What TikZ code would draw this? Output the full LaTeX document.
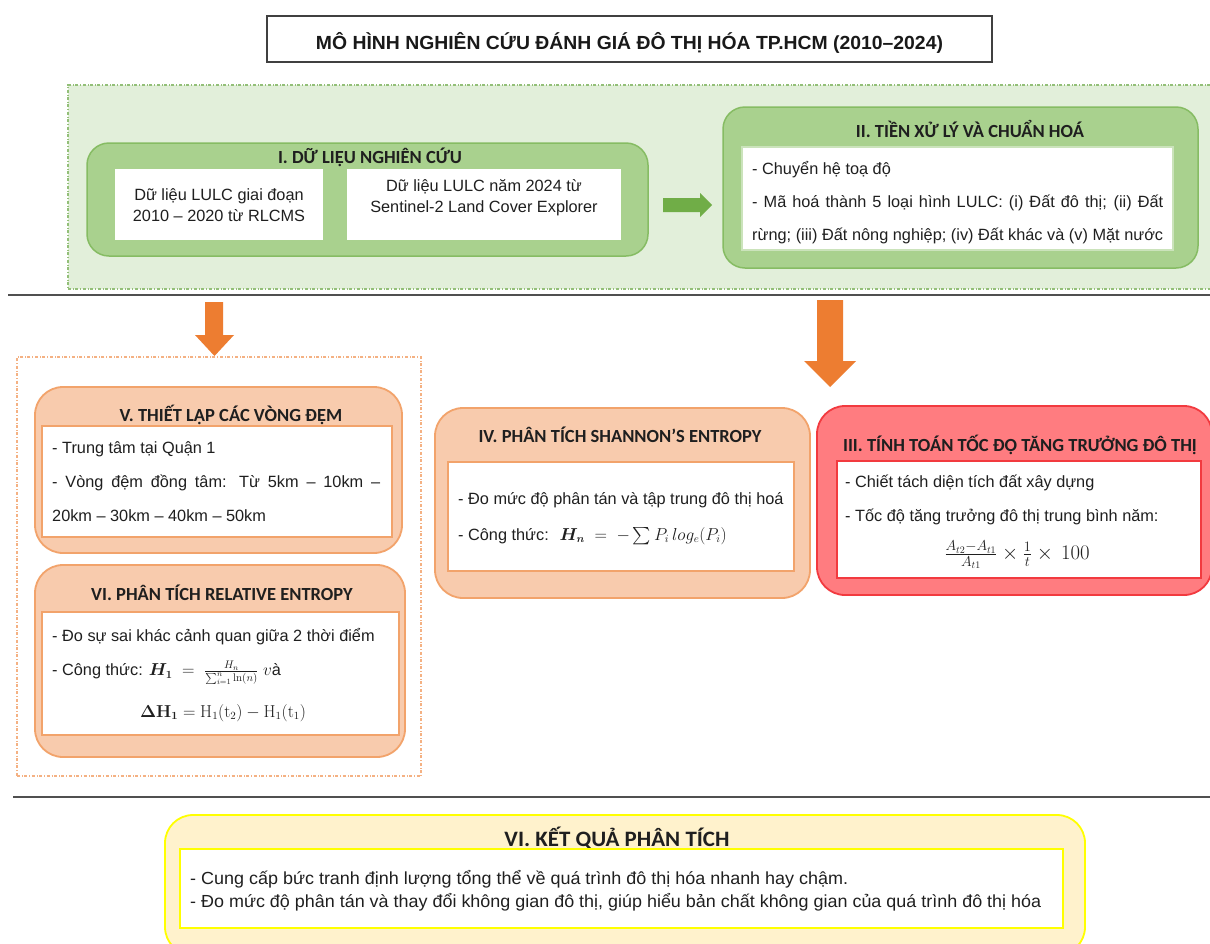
\documentclass[tikz,border=0pt]{standalone}
\usepackage{amsmath,bm,graphicx}
\usepackage[no-math]{fontspec}
\setmainfont{Liberation Sans}
\newfontfamily\calfont{Carlito}
\usetikzlibrary{positioning}
\definecolor{lgreen}{HTML}{E2EFDA}
\definecolor{panelb}{HTML}{93BF78}
\definecolor{mgreen}{HTML}{A9D18E}
\definecolor{mgreenb}{HTML}{86BC63}
\definecolor{agreen}{HTML}{70AD47}
\definecolor{lorange}{HTML}{F8CBAD}
\definecolor{orangeb}{HTML}{F2A36B}
\definecolor{aorange}{HTML}{ED7D31}
\definecolor{opanel}{HTML}{F4B183}
\definecolor{lred}{HTML}{FF7C80}
\definecolor{redb}{HTML}{F23A3F}
\definecolor{lyellow}{HTML}{FFF2CC}
\definecolor{yellowb}{HTML}{FFFF00}
\definecolor{sepgray}{HTML}{505050}
\tikzset{
  boxbase/.style={anchor=north west, inner sep=0pt, outer sep=0pt},
  panelgreen/.style={boxbase, fill=lgreen, draw=panelb, dash dot, line width=1.2pt},
  panelorange/.style={boxbase, draw=opanel, dash dot, line width=1.2pt},
  greenbox/.style={boxbase, fill=mgreen, draw=mgreenb, line width=1.5pt, rounded corners=22pt},
  orangebox/.style={boxbase, fill=lorange, draw=orangeb, line width=1.8pt, rounded corners=28pt},
  redbox/.style={boxbase, fill=lred, draw=redb, line width=1.8pt, rounded corners=28pt},
  yellowbox/.style={boxbase, fill=lyellow, draw=yellowb, line width=1.8pt, rounded corners=28pt},
  whitebox/.style={boxbase, fill=white, draw=#1, line width=1.2pt},
  whitebox/.default=white,
  ttl/.style={font=\calfont\bfseries\fontsize{18.5}{22}\selectfont, inner sep=0pt, text=black!88},
  txt/.style={font=\fontsize{16.3}{20}\selectfont, inner sep=0pt, anchor=west, text=black!88},
  ctxt/.style={font=\fontsize{16.3}{20}\selectfont, inner sep=0pt, text=black!88},
  sepline/.style={draw=sepgray, line width=1.6pt},
  blockgreen/.style={fill=agreen},
  blockorange/.style={fill=aorange},
}
\begin{document}
\begin{tikzpicture}[x=1pt,y=-1pt]
\useasboundingbox (0,0) rectangle (1210,943);
\clip (0,0) rectangle (1210,943);
\fill[white] (0,0) rectangle (1210,943);

% title
\node[boxbase, draw=black!75, line width=1.5pt, minimum width=725pt, minimum height=46pt] (titlebox) at (267,16) {};
\node[inner sep=0pt, font=\bfseries\fontsize{19}{22}\selectfont, text=black!90] (titletext) at (629.5,43) {\resizebox{627pt}{\height}{MÔ HÌNH NGHIÊN CỨU ĐÁNH GIÁ ĐÔ THỊ HÓA TP.HCM (2010–2024)}};

% green panel
\node[panelgreen, minimum width=1150pt, minimum height=204pt] (panelA) at (68,85) {};

% Section I
\node[greenbox, minimum width=561pt, minimum height=113pt] (secI) at (87,143) {};
\node[ttl] (secIt) at (370,157) {I. DỮ LIỆU NGHIÊN CỨU};
\node[whitebox, minimum width=206pt, minimum height=69pt] (dataA) at (116,170) {};
\node[whitebox, minimum width=272pt, minimum height=69pt] (dataB) at (348,170) {};
\node[ctxt, align=center] (dataAt) at (219,205) {Dữ liệu LULC giai đoạn\\[1pt]2010 – 2020 từ RLCMS};
\node[ctxt, align=center] (dataBt) at (484,198) {Dữ liệu LULC năm 2024 từ\\[1pt]Sentinel-2 Land Cover Explorer};

% green arrow
\fill[blockgreen] (663,198) -- (700,198) -- (700,193) -- (712,205) -- (700,217) -- (700,212) -- (663,212) -- cycle;

% Section II
\node[greenbox, minimum width=475pt, minimum height=161pt] (secII) at (723,107) {};
\node[ttl] (secIIt) at (970,129) {II. TIỀN XỬ LÝ VÀ CHUẨN HOÁ};
\node[whitebox=mgreen!60, minimum width=431pt, minimum height=103pt] (secIIin) at (742,147) {};
\node[txt] (l21) at (752,170) {- Chuyển hệ toạ độ};
\node[txt] (l22) at (752,203) {\makebox[411pt][s]{- Mã hoá thành 5 loại hình LULC: (i) Đất đô thị; (ii) Đất}};
\node[txt] (l23) at (752,236) {\makebox[411pt][s]{rừng; (iii) Đất nông nghiệp; (iv) Đất khác và (v) Mặt nước}};

% separator 1
\draw[sepline] (8,295) -- (1210,295);

% orange arrows
\fill[blockorange] (205,302) -- (223,302) -- (223,335) -- (234,335) -- (214.5,356) -- (195,335) -- (205,335) -- cycle;
\fill[blockorange] (817,300) -- (843,300) -- (843,361) -- (856,361) -- (830,387) -- (804,361) -- (817,361) -- cycle;

% orange panel
\node[panelorange, minimum width=404pt, minimum height=419pt] (panelB) at (17,357) {};

% Section V
\node[orangebox, minimum width=367pt, minimum height=166pt] (secV) at (35,387) {};
\node[ttl] (secVt) at (231,415) {V. THIẾT LẬP CÁC VÒNG ĐỆM};
\node[whitebox=orangeb, minimum width=350pt, minimum height=111pt] (secVin) at (42,426) {};
\node[txt] (l51) at (52,449) {- Trung tâm tại Quận 1};
\node[txt] (l52) at (52,483) {\makebox[328pt][s]{- Vòng đệm đồng tâm: Từ 5km – 10km –}};
\node[txt] (l53) at (52,516) {20km – 30km – 40km – 50km};

% Section VI (relative entropy)
\node[orangebox, minimum width=370pt, minimum height=192pt] (secVI) at (35,565) {};
\node[ttl] (secVIt) at (222,593) {VI. PHÂN TÍCH RELATIVE ENTROPY};
\node[whitebox=orangeb, minimum width=357pt, minimum height=123pt] (secVIin) at (42,612) {};
\node[txt] (l61) at (52,637) {- Đo sự sai khác cảnh quan giữa 2 thời điểm};
\node[txt] (l62) at (52,673) {- Công thức: \(\bm{H_1}\;=\;\frac{H_n}{\sum_{i=1}^{n}\ln(n)}\) \(v\)à};
\node[ctxt] (l63) at (223,713) {\(\bm{\Delta}\mathbf{H_1}=\mathrm{H_1(t_2)}-\mathrm{H_1(t_1)}\)};

% Section IV
\node[orangebox, minimum width=375pt, minimum height=190pt] (secIV) at (435,408) {};
\node[ttl] (secIVt) at (620,435) {IV. PHÂN TÍCH SHANNON’S ENTROPY};
\node[whitebox=orangeb, minimum width=346pt, minimum height=109pt] (secIVin) at (448,462) {};
\node[txt] (l41) at (458,500) {- Đo mức độ phân tán và tập trung đô thị hoá};
\node[txt] (l42) at (458,536) {- Công thức: \(\;\bm{H_n}\;=\;-\sum P_i\, log_e(P_i)\)};

% Section III
\node[redbox, minimum width=395pt, minimum height=189pt] (secIII) at (817,406) {};
\node[ttl] (secIIIt) at (1020,445) {III. TÍNH TOÁN TỐC ĐỘ TĂNG TRƯỞNG ĐÔ THỊ};
\node[whitebox=redb, minimum width=364pt, minimum height=117pt] (secIIIin) at (837,461) {};
\node[txt] (l31) at (845,483) {- Chiết tách diện tích đất xây dựng};
\node[txt] (l32) at (845,517) {- Tốc độ tăng trưởng đô thị trung bình năm:};
\node[ctxt, font=\fontsize{19.5}{22}\selectfont] (l33) at (1017,555) {\(\frac{A_{t2}-A_{t1}}{A_{t1}}\times\frac{1}{t}\times\,100\)};

% separator 2
\draw[sepline] (13,797) -- (1210,797);

% results
\node[yellowbox, minimum width=920pt, minimum height=140pt] (secR) at (165,815) {};
\node[ttl, font=\calfont\bfseries\fontsize{22}{24}\selectfont] (secRt) at (617,838) {\resizebox{225pt}{\height}{VI. KẾT QUẢ PHÂN TÍCH}};
\node[whitebox=yellowb, minimum width=883pt, minimum height=79pt] (secRin) at (180,849) {};
\node[txt, font=\fontsize{17.5}{20}\selectfont] (r1) at (190,879) {\resizebox{658pt}{\height}{- Cung cấp bức tranh định lượng tổng thể về quá trình đô thị hóa nhanh hay chậm.}};
\node[txt, font=\fontsize{17.5}{20}\selectfont] (r2) at (190,902) {\resizebox{851pt}{\height}{- Đo mức độ phân tán và thay đổi không gian đô thị, giúp hiểu bản chất không gian của quá trình đô thị hóa}};
\end{tikzpicture}
\end{document}
